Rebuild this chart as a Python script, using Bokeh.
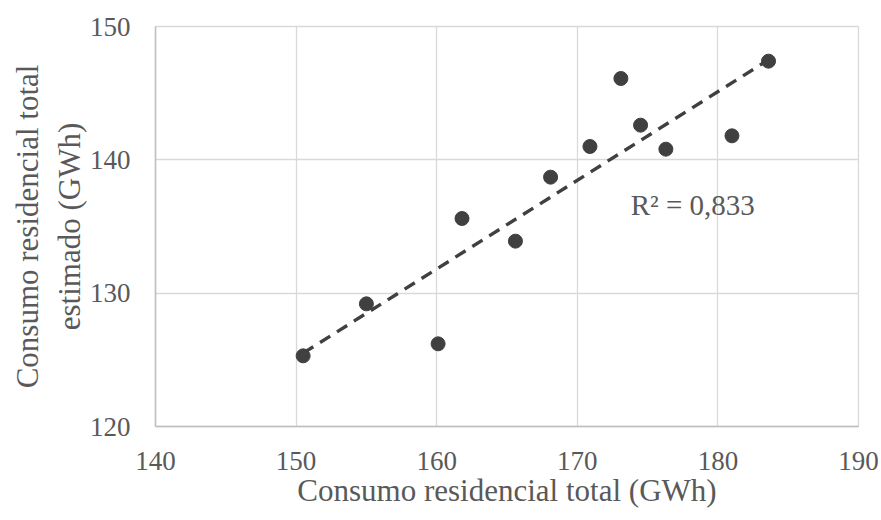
import numpy as np
from bokeh.plotting import figure
from bokeh.models import Range1d, Label, FixedTicker, ColumnDataSource
from bokeh.embed import file_html
from bokeh.resources import INLINE

# Data
consumo_total = [150.5, 155.0, 160.1, 161.8, 165.6, 168.1, 170.9, 173.1, 174.5, 176.3, 181.0, 183.6]
consumo_estimado = [125.3, 129.2, 126.2, 135.6, 133.9, 138.7, 141.0, 146.1, 142.6, 140.8, 141.8, 147.4]
x_ticks = [140, 150, 160, 170, 180, 190]
y_ticks = [120, 130, 140, 150]
r2_text = "R² = 0,833"
x_title = "Consumo residencial total (GWh)"
y_title = "Consumo residencial total\nestimado (GWh)"

FONT = "Liberation Serif"
TXT = "#595959"
DARK = "#404040"

p = figure(width=881, height=520, output_backend="svg", toolbar_location=None,
           x_range=Range1d(140, 190), y_range=Range1d(120, 150),
           min_border_left=155, min_border_right=23, min_border_top=26, min_border_bottom=94)
p.background_fill_color = "white"
p.border_fill_color = "white"
p.outline_line_color = "#d9d9d9"
p.outline_line_width = 1.3

for ax in (p.xaxis[0], p.yaxis[0]):
    ax.major_label_text_font = FONT
    ax.major_label_text_font_size = "27px"
    ax.major_label_text_color = TXT
    ax.axis_label_text_font = FONT
    ax.axis_label_text_font_size = "31px"
    ax.axis_label_text_color = TXT
    ax.axis_label_text_font_style = "normal"
    ax.axis_line_color = "#bfbfbf"
    ax.axis_line_width = 1.5
    ax.major_tick_line_color = None
    ax.minor_tick_line_color = None
    ax.major_tick_out = 0
    ax.major_tick_in = 0

p.xaxis.ticker = FixedTicker(ticks=x_ticks)
p.yaxis.ticker = FixedTicker(ticks=y_ticks)
p.xaxis.axis_label = x_title
p.yaxis.axis_label = y_title
p.xaxis.major_label_standoff = 25
p.yaxis.major_label_standoff = 25
p.xaxis.axis_label_standoff = 0
p.yaxis.axis_label_standoff = 0

p.xgrid.grid_line_color = "#d9d9d9"
p.ygrid.grid_line_color = "#d9d9d9"
p.xgrid.grid_line_width = 1.3
p.ygrid.grid_line_width = 1.3

# Linear trend line fitted to the data
xs = np.array(consumo_total)
ys = np.array(consumo_estimado)
slope, intercept = np.polyfit(xs, ys, 1)
tx = [xs.min(), xs.max()]
ty = [slope * t + intercept for t in tx]
p.line(tx, ty, line_color=DARK, line_width=3.4, line_dash="12 8")

src = ColumnDataSource(dict(x=consumo_total, y=consumo_estimado))
p.scatter("x", "y", source=src, size=14, fill_color=DARK, line_color=DARK)

lbl = Label(x=173.8, y=136.65, text=r2_text, text_font=FONT, text_font_size="29px",
            text_color=TXT, text_align="left", text_baseline="middle")
p.add_layout(lbl)

open("out.html", "w").write(file_html(p, INLINE))
